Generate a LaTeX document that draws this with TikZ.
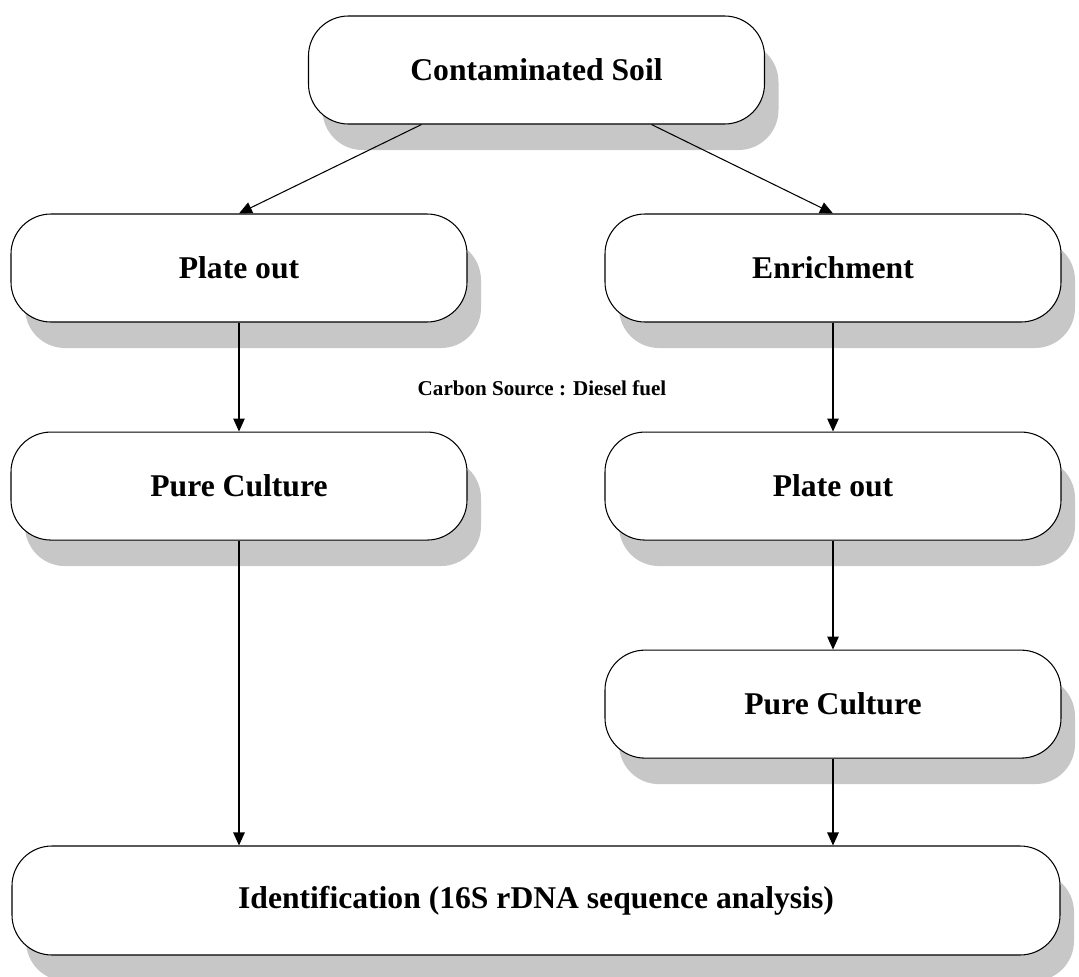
\documentclass[tikz,border=0pt]{standalone}
\usepackage{fontspec}
\setmainfont{Liberation Serif}
\usetikzlibrary{arrows.meta,positioning,shadows}

\begin{document}
\begin{tikzpicture}[
  node distance=2.18cm and 2.7cm,
  box/.style={draw, rounded corners=0.8cm, fill=white, line width=0.6pt,
    minimum width=9.12cm, minimum height=2.16cm,
    font=\fontsize{18}{20}\selectfont\bfseries,
    drop shadow={shadow xshift=0.28cm, shadow yshift=-0.52cm,
      fill=black!22, opacity=1}},
  note/.style={font=\fontsize{12}{14}\selectfont\bfseries},
  arrow/.style={-{Triangle[length=2.6mm, width=2.3mm]}, line width=0.6pt}
]
\useasboundingbox (0,0) rectangle (21.58,-19.54);

\node[box] (soil) at (10.73,-1.40) {Contaminated Soil};
\node[box] (plateA) at (4.78,-5.36) {Plate out};
\node[box] (enrich) at (16.66,-5.36) {Enrichment};
\node[box, below=of plateA] (pureA) {Pure Culture};
\node[box, below=of enrich] (plateB) {Plate out};
\node[box, below=of plateB] (pureB) {Pure Culture};
\node[box, minimum width=20.96cm, minimum height=2.18cm] (ident)
  at (10.72,-18.01) {Identification (16S rDNA sequence analysis)};
\node[note] (carbon) at (10.84,-7.76) {Carbon Source : Diesel fuel};

\draw[arrow] ([xshift=-2.3cm]soil.south) -- (plateA.north);
\draw[arrow] ([xshift=2.3cm]soil.south) -- (enrich.north);
\draw[arrow] (plateA) -- (pureA);
\draw[arrow] (enrich) -- (plateB);
\draw[arrow] (plateB) -- (pureB);
\draw[arrow] (pureA.south) -- (pureA.south |- ident.north);
\draw[arrow] (pureB.south) -- (pureB.south |- ident.north);

\end{tikzpicture}
\end{document}
